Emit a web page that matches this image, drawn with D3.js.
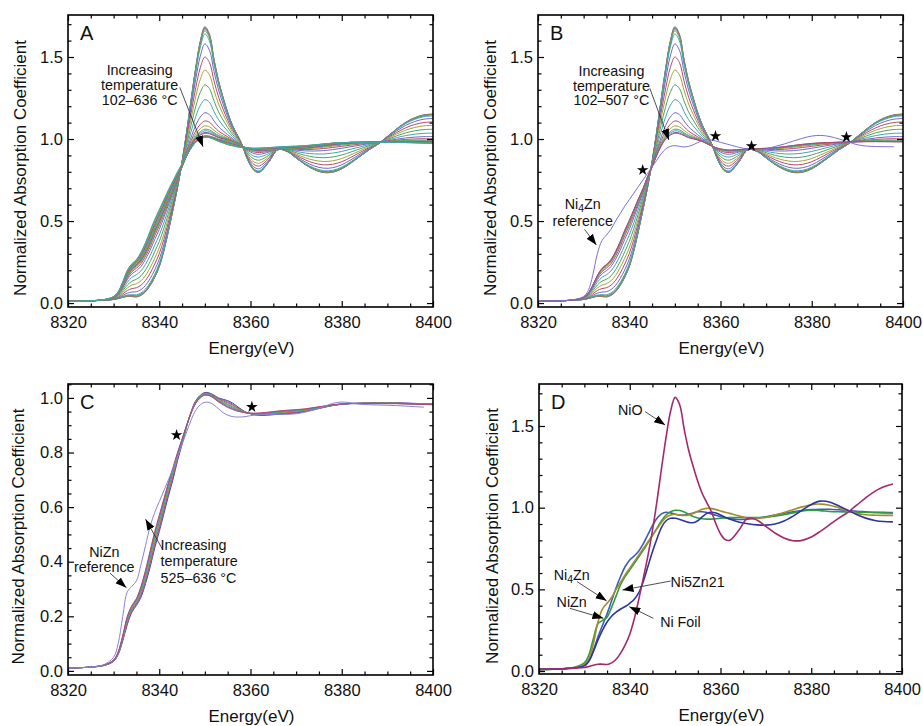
<!DOCTYPE html>
<html>
<head>
<meta charset="utf-8">
<script src="https://cdn.jsdelivr.net/npm/d3@7"></script>
<style>
  body { margin: 0; background: #fff; }
  text { font-family: "Liberation Sans", Arial, sans-serif; fill: #111; }
</style>
</head>
<body>
<svg id="fig" width="923" height="726"></svg>
<script>
// energy grid (eV), shared by every spectrum below
const energy = [
  8320, 8323, 8326, 8328, 8330, 8331, 8332, 8333, 8334, 8335,
  8336, 8337, 8338, 8339, 8340, 8341, 8342, 8343, 8344, 8345,
  8346, 8347, 8348, 8349, 8350, 8351, 8352, 8353, 8354, 8355,
  8356, 8357, 8358, 8359, 8360, 8361, 8362, 8364, 8366, 8368,
  8370, 8372, 8374, 8376, 8378, 8380, 8382, 8384, 8386, 8388,
  8390, 8392, 8394, 8396, 8398, 8400
]

// NiO (first scan of the series, and reference in D)
const nio = [
  0.010, 0.012, 0.015, 0.018, 0.022, 0.028, 0.036, 0.042, 0.042, 0.040,
  0.050, 0.072, 0.110, 0.160, 0.225, 0.320, 0.440, 0.570, 0.705, 0.860,
  1.040, 1.240, 1.430, 1.590, 1.675, 1.630, 1.480, 1.350, 1.250, 1.160,
  1.085, 1.030, 0.975, 0.900, 0.840, 0.805, 0.800, 0.860, 0.935, 0.925,
  0.885, 0.845, 0.815, 0.798, 0.800, 0.820, 0.855, 0.895, 0.935, 0.970,
  1.015, 1.060, 1.100, 1.128, 1.145, 1.150
]

// scan at 525 °C
const scan525 = [
  0.010, 0.012, 0.015, 0.020, 0.035, 0.060, 0.110, 0.170, 0.215, 0.240,
  0.270, 0.320, 0.380, 0.450, 0.510, 0.575, 0.640, 0.700, 0.770, 0.830,
  0.895, 0.950, 0.990, 1.010, 1.020, 1.018, 1.010, 1.000, 0.995, 0.990,
  0.982, 0.970, 0.958, 0.948, 0.942, 0.938, 0.936, 0.937, 0.940, 0.942,
  0.945, 0.950, 0.957, 0.965, 0.972, 0.977, 0.980, 0.981, 0.982, 0.982,
  0.982, 0.982, 0.981, 0.980, 0.979, 0.978
]

// scan at 636 °C
const scan636 = [
  0.010, 0.012, 0.016, 0.022, 0.040, 0.070, 0.130, 0.200, 0.240, 0.265,
  0.310, 0.370, 0.440, 0.510, 0.570, 0.630, 0.690, 0.745, 0.800, 0.850,
  0.900, 0.945, 0.980, 1.000, 1.010, 1.008, 0.998, 0.985, 0.975, 0.965,
  0.958, 0.952, 0.948, 0.945, 0.944, 0.944, 0.945, 0.948, 0.952, 0.955,
  0.957, 0.960, 0.965, 0.970, 0.975, 0.978, 0.979, 0.979, 0.979, 0.979,
  0.979, 0.979, 0.978, 0.977, 0.976, 0.975
]

const ni4zn = [
  0.010, 0.012, 0.016, 0.022, 0.040, 0.075, 0.170, 0.300, 0.380, 0.415,
  0.450, 0.500, 0.545, 0.590, 0.630, 0.670, 0.710, 0.750, 0.790, 0.830,
  0.870, 0.910, 0.940, 0.955, 0.960, 0.955, 0.952, 0.955, 0.965, 0.978,
  0.990, 0.996, 0.994, 0.988, 0.980, 0.972, 0.965, 0.950, 0.938, 0.935,
  0.940, 0.955, 0.970, 0.988, 1.005, 1.018, 1.022, 1.015, 1.000, 0.982,
  0.965, 0.957, 0.954, 0.953, 0.953, 0.953
]

const nizn = [
  0.010, 0.012, 0.016, 0.024, 0.050, 0.100, 0.200, 0.290, 0.310, 0.330,
  0.390, 0.460, 0.530, 0.580, 0.620, 0.660, 0.700, 0.740, 0.785, 0.830,
  0.875, 0.920, 0.955, 0.975, 0.984, 0.983, 0.974, 0.960, 0.946, 0.937,
  0.932, 0.930, 0.930, 0.932, 0.935, 0.937, 0.939, 0.940, 0.940, 0.940,
  0.942, 0.948, 0.957, 0.968, 0.980, 0.985, 0.982, 0.977, 0.975, 0.974,
  0.973, 0.972, 0.970, 0.968, 0.966, 0.965
]

const ni5zn21 = [
  0.010, 0.012, 0.016, 0.022, 0.040, 0.070, 0.130, 0.210, 0.280, 0.350,
  0.430, 0.510, 0.580, 0.640, 0.680, 0.705, 0.735, 0.780, 0.835, 0.890,
  0.935, 0.962, 0.972, 0.968, 0.960, 0.955, 0.955, 0.960, 0.968, 0.975,
  0.975, 0.970, 0.962, 0.953, 0.945, 0.938, 0.933, 0.928, 0.930, 0.936,
  0.945, 0.955, 0.965, 0.975, 0.983, 0.988, 0.990, 0.990, 0.987, 0.983,
  0.978, 0.975, 0.972, 0.971, 0.970, 0.970
]

const niFoil = [
  0.010, 0.012, 0.015, 0.020, 0.032, 0.060, 0.120, 0.190, 0.250, 0.300,
  0.335, 0.360, 0.380, 0.395, 0.415, 0.440, 0.480, 0.550, 0.640, 0.730,
  0.810, 0.880, 0.920, 0.935, 0.935, 0.928, 0.918, 0.910, 0.908, 0.920,
  0.945, 0.965, 0.972, 0.968, 0.955, 0.942, 0.930, 0.912, 0.902, 0.895,
  0.893, 0.900, 0.918, 0.948, 0.985, 1.020, 1.040, 1.035, 1.012, 0.985,
  0.958, 0.936, 0.922, 0.915, 0.913, 0.913
]

// white-line height at 8350 eV of each scan 102-507 °C
const peaksLow = [1.685, 1.68, 1.675, 1.67, 1.66, 1.64, 1.58, 1.50, 1.42,
  1.33, 1.24, 1.16, 1.11, 1.08, 1.06, 1.05, 1.04, 1.035]
// height at 8355 eV of each scan 525-636 °C
const shouldersHigh = [0.990, 0.986, 0.982, 0.978, 0.975, 0.971, 0.968, 0.965]

// isosbestic stars
const starsB = [[8342.95, 0.811], [8358.9, 1.018], [8366.8, 0.957], [8387.6, 1.012]]
const starsC = [[8343.8, 0.864], [8360.3, 0.967]]

const xTicks = [8320, 8340, 8360, 8380, 8400]

const palette = ['#7466c8', '#b54a66', '#a5a33c', '#4ca262', '#43a4ac']
const paletteC = ['#3b3d9e', '#8a5ab8', '#b54a66', '#a5a33c', '#4ca262', '#43a4ac', '#7466c8', '#b54a66']

// each scan of the series is a two-component mix of the bracketing scans
const i8350 = energy.indexOf(8350)
const i8355 = energy.indexOf(8355)
const lowScans = peaksLow.map(h => {
  const f = (h - scan525[i8350]) / (nio[i8350] - scan525[i8350])
  return scan525.map((v, i) => v + f * (nio[i] - v))
})
const highScans = shouldersHigh.map(s => {
  const f = (s - scan636[i8355]) / (scan525[i8355] - scan636[i8355])
  return scan636.map((v, i) => v + f * (scan525[i] - v))
})

const svg = d3.select('#fig')

const defs = svg.append('defs')
defs.append('marker')
  .attr('id', 'head')
  .attr('viewBox', '0 0 10 10')
  .attr('refX', 10)
  .attr('refY', 5)
  .attr('markerWidth', 11)
  .attr('markerHeight', 11)
  .attr('markerUnits', 'userSpaceOnUse')
  .attr('orient', 'auto')
  .append('path')
  .attr('d', 'M0,1.4 L10,5 L0,8.6 Z')
  .attr('fill', '#000')

function drawPanel (p) {
  const x = d3.scaleLinear().domain([8320, 8400]).range([p.left, p.right])
  const y = d3.scaleLinear().domain(p.yDomain).range([p.bottom, p.top])
  const g = svg.append('g')

  defs.append('clipPath').attr('id', 'clip' + p.name)
    .append('rect')
    .attr('x', p.left).attr('y', p.top)
    .attr('width', p.right - p.left).attr('height', p.bottom - p.top)

  const line = d3.line()
    .x(d => x(d[0]))
    .y(d => y(d[1]))
    .curve(d3.curveCatmullRom.alpha(0.5))

  const plot = g.append('g').attr('clip-path', `url(#clip${p.name})`)
  p.series.forEach(s => {
    const pts = energy.map((e, i) => [e, s.values[i]]).filter(d => d[0] <= (s.maxE || 8400))
    plot.append('path')
      .attr('d', line(pts))
      .attr('fill', 'none')
      .attr('stroke', s.color)
      .attr('stroke-width', s.width || 1)
  })

  // axes: labelled major ticks, minor ticks, mirrored on top/right
  const xMinor = d3.range(8320, 8401, 5).filter(v => v % 20 !== 0)
  const yMajor = d3.range(0, p.yDomain[1] + 1e-9, p.yStep)
  const yMinor = d3.range(0, p.yDomain[1] + 1e-9, p.yMinorStep)
    .filter(v => Math.abs(v / p.yStep - Math.round(v / p.yStep)) > 1e-6)
  const fmt = d3.format('.1f')

  const styleAxis = sel => {
    sel.select('.domain').remove()
    sel.selectAll('line').attr('stroke', '#000').attr('stroke-width', 1.2)
    sel.selectAll('text').attr('font-size', 16.5).attr('fill', '#111')
      .attr('font-family', '"Liberation Sans", Arial, sans-serif')
  }

  g.append('g').attr('transform', `translate(0,${p.bottom})`)
    .call(d3.axisBottom(x).tickValues(xTicks).tickSize(-6).tickPadding(9).tickFormat(d3.format('d')))
    .call(styleAxis)
  g.append('g').attr('transform', `translate(0,${p.bottom})`)
    .call(d3.axisBottom(x).tickValues(xMinor).tickSize(-3.5).tickFormat(''))
    .call(styleAxis)
  g.append('g').attr('transform', `translate(0,${p.top})`)
    .call(d3.axisTop(x).tickValues(xTicks).tickSize(-6).tickFormat(''))
    .call(styleAxis)
  g.append('g').attr('transform', `translate(0,${p.top})`)
    .call(d3.axisTop(x).tickValues(xMinor).tickSize(-3.5).tickFormat(''))
    .call(styleAxis)
  g.append('g').attr('transform', `translate(${p.left},0)`)
    .call(d3.axisLeft(y).tickValues(yMajor).tickSize(-6).tickPadding(5).tickFormat(fmt))
    .call(styleAxis)
  g.append('g').attr('transform', `translate(${p.left},0)`)
    .call(d3.axisLeft(y).tickValues(yMinor).tickSize(-3.5).tickFormat(''))
    .call(styleAxis)
  g.append('g').attr('transform', `translate(${p.right},0)`)
    .call(d3.axisRight(y).tickValues(yMajor).tickSize(-6).tickFormat(''))
    .call(styleAxis)
  g.append('g').attr('transform', `translate(${p.right},0)`)
    .call(d3.axisRight(y).tickValues(yMinor).tickSize(-3.5).tickFormat(''))
    .call(styleAxis)

  g.append('rect')
    .attr('x', p.left).attr('y', p.top)
    .attr('width', p.right - p.left).attr('height', p.bottom - p.top)
    .attr('fill', 'none').attr('stroke', '#000').attr('stroke-width', 1.6)

  // titles
  g.append('text')
    .attr('x', (p.left + p.right) / 2 + 1)
    .attr('y', p.bottom + 47)
    .attr('text-anchor', 'middle')
    .attr('font-size', 17)
    .text('Energy(eV)')
  g.append('text')
    .attr('transform', `translate(${p.yTitleX},${(p.top + p.bottom) / 2 + 7}) rotate(-90)`)
    .attr('text-anchor', 'middle')
    .attr('font-size', 17)
    .text('Normalized Absorption Coefficient')
  g.append('text')
    .attr('x', p.left + 12)
    .attr('y', p.top + 25)
    .attr('font-size', 20)
    .text(p.name)

  // stars
  g.selectAll('.star').data(p.stars || []).enter()
    .append('path')
    .attr('transform', d => `translate(${x(d[0])},${y(d[1])})`)
    .attr('d', d3.symbol(d3.symbolStar, 42))
    .attr('fill', '#000')

  // annotations
  ;(p.notes || []).forEach(n => {
    const t = g.append('text')
      .attr('x', x(n.at[0]))
      .attr('y', y(n.at[1]))
      .attr('text-anchor', n.anchor || 'middle')
      .attr('font-size', 14.3)
    n.lines.forEach((ln, k) => {
      const parts = Array.isArray(ln) ? ln : [[ln]]
      parts.forEach((part, j) => {
        const ts = t.append('tspan').text(part[0])
        if (j === 0) ts.attr('x', x(n.at[0])).attr('dy', k === 0 ? 0 : n.lh)
        if (part[1] === 'sub') ts.attr('font-size', 10.5).attr('dy', 2.5)
        else if (j > 0 && parts[j - 1][1] === 'sub') ts.attr('dy', -2.5)
      })
    })
  })
  ;(p.arrows || []).forEach(a => {
    g.append('line')
      .attr('x1', x(a[0][0])).attr('y1', y(a[0][1]))
      .attr('x2', x(a[1][0])).attr('y2', y(a[1][1]))
      .attr('stroke', '#222')
      .attr('stroke-width', 0.8)
      .attr('marker-end', 'url(#head)')
  })
}

const seriesA = lowScans.concat(highScans)
  .map((v, i) => ({ values: v, color: palette[(i + 4) % 5] }))
const seriesB = lowScans
  .map((v, i) => ({ values: v, color: palette[(i + 4) % 5] }))
  .concat([{ values: ni4zn, color: '#7b70d6', maxE: 8398 }])
const seriesC = highScans
  .map((v, i) => ({ values: v, color: paletteC[i % paletteC.length] }))
  .concat([{ values: nizn, color: '#8682dc', maxE: 8398 }])
const seriesD = [
  { values: ni5zn21, color: '#3f5cb6', width: 1.6, maxE: 8398 },
  { values: nizn, color: '#2f9b42', width: 1.6, maxE: 8398 },
  { values: ni4zn, color: '#a38c2e', width: 1.6, maxE: 8398 },
  { values: niFoil, color: '#2b35a2', width: 1.6, maxE: 8398 },
  { values: nio, color: '#a3296f', width: 1.6, maxE: 8398 }
]

drawPanel({
  name: 'A', left: 68, right: 433, top: 15, bottom: 307,
  yDomain: [-0.024, 1.756], yStep: 0.5, yMinorStep: 0.1, yTitleX: 26,
  series: seriesA,
  notes: [{ at: [8335.7, 1.389], lh: 14.8, lines: ['Increasing', 'temperature', '102\u2013636 \u00b0C'] }],
  arrows: [[[8344.5, 1.315], [8349.6, 0.953]]]
})

drawPanel({
  name: 'B', left: 538, right: 903, top: 15, bottom: 307,
  yDomain: [-0.024, 1.756], yStep: 0.5, yMinorStep: 0.1, yTitleX: 496,
  series: seriesB,
  stars: starsB,
  notes: [
    { at: [8336.1, 1.385], lh: 14.8, lines: ['Increasing', 'temperature', '102\u2013507 \u00b0C'] },
    { at: [8329.8, 0.572], lh: 16.8, lines: [[['Ni'], ['4', 'sub'], ['Zn']], 'reference'] }
  ],
  arrows: [
    [[8344.5, 1.309], [8348.7, 0.994]],
    [[8330.2, 0.449], [8332.8, 0.354]]
  ]
})

drawPanel({
  name: 'C', left: 68, right: 433, top: 384, bottom: 675,
  yDomain: [-0.015, 1.051], yStep: 0.2, yMinorStep: 0.05, yTitleX: 24,
  series: seriesC,
  stars: starsC,
  notes: [
    { at: [8327.96, 0.416], lh: 15, lines: ['NiZn', 'reference'] },
    { at: [8340.3, 0.443], lh: 16.5, anchor: 'start', lines: ['Increasing', 'temperature', '525\u2013636 \u00b0C'] }
  ],
  arrows: [
    [[8329.2, 0.358], [8332.8, 0.305]],
    [[8340.8, 0.443], [8337.0, 0.556]]
  ]
})

drawPanel({
  name: 'D', left: 539, right: 902, top: 384, bottom: 674,
  yDomain: [-0.018, 1.757], yStep: 0.5, yMinorStep: 0.1, yTitleX: 498,
  series: seriesD,
  notes: [
    { at: [8340.1, 1.568], lines: ['NiO'] },
    { at: [8327.2, 0.557], lines: [[['Ni'], ['4', 'sub'], ['Zn']]] },
    { at: [8327.2, 0.39], lines: ['NiZn'] },
    { at: [8349.0, 0.516], anchor: 'start', lines: ['Ni5Zn21'] },
    { at: [8346.7, 0.271], anchor: 'start', lines: ['Ni Foil'] }
  ],
  arrows: [
    [[8343.4, 1.588], [8347.8, 1.506]],
    [[8328.4, 0.547], [8334.9, 0.43]],
    [[8326.8, 0.384], [8334.2, 0.323]],
    [[8349.0, 0.551], [8338.4, 0.496]],
    [[8345.2, 0.323], [8339.9, 0.394]]
  ]
})
</script>
</body>
</html>
